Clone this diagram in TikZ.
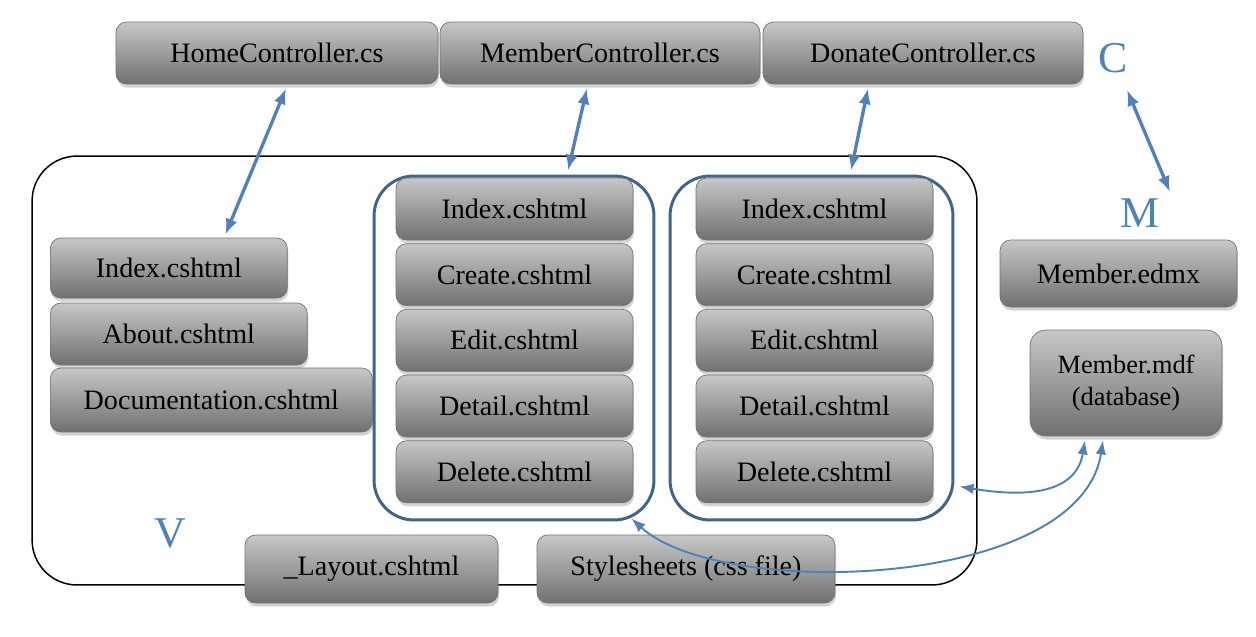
\documentclass[tikz,border=0pt]{standalone}
\usepackage{fontspec}
\setmainfont{Liberation Serif}
\usepackage{tikz}
\usetikzlibrary{positioning}
\usetikzlibrary{shadows}
\usetikzlibrary{arrows.meta}
\definecolor{linkblue}{HTML}{4F81BD}
\definecolor{grpblue}{HTML}{41648F}
\newcommand{\fsize}{\fontsize{16}{19}\selectfont}

\begin{document}
\begin{tikzpicture}[x=0.02cm, y=-0.02cm,
    file/.style={rectangle, rounded corners=6pt, draw=black!55, line width=0.4pt, top color=black!22, bottom color=black!56, drop shadow={opacity=0.35, shadow xshift=0.6pt, shadow yshift=-2pt}, inner sep=0pt, minimum height=1.24cm, font=\fsize, text=black, align=center},
    grp/.style={rectangle, rounded corners=0.8cm, draw=grpblue, line width=1.7pt, inner sep=0pt},
    letter/.style={text=linkblue, font=\fontsize{25}{28}\selectfont},
    link/.style={linkblue, line width=1.9pt, {Latex[length=9pt,width=7pt]}-{Latex[length=9pt,width=7pt]}},
    thinlink/.style={linkblue, line width=1.1pt, {Latex[length=8pt,width=6pt]}-{Latex[length=8pt,width=6pt]}}]
    \useasboundingbox (0,0) rectangle (1256,636);

    \node[draw, line width=0.85pt, rounded corners=0.9cm, minimum width=18.9cm, minimum height=8.58cm, inner sep=0pt] (vbox) at (504.5,370.5) {};
    \node[letter] (lv) at (170,533) {V};

    \node[file, minimum width=6.44cm] (home) at (277,53) {HomeController.cs};
    \node[file, minimum width=6.4cm] (mctrl) at (600,53) {MemberController.cs};
    \node[file, minimum width=6.4cm] (dctrl) at (923,53) {DonateController.cs};
    \node[letter] (lc) at (1113,58) {C};
    \node[letter] (lm) at (1140,213) {M};

    \node[file, minimum width=4.74cm, minimum height=1.2cm, anchor=west] (hidx) at (50,268) {Index.cshtml};
    \node[file, minimum width=5.14cm, anchor=west] (habout) at (50,334) {About.cshtml};
    \node[file, minimum width=6.44cm, minimum height=1.28cm, anchor=west] (hdoc) at (50,400) {Documentation.cshtml};

    \node[grp, minimum width=5.6cm, minimum height=6.88cm] (mgrp) at (514,348) {};
    \node[file, minimum width=4.74cm] (midx) at (514.5,209) {Index.cshtml};
    \node[file, minimum width=4.74cm, below=0.06cm of midx] (mcre) {Create.cshtml};
    \node[file, minimum width=4.74cm, below=0.06cm of mcre] (medit) {Edit.cshtml};
    \node[file, minimum width=4.74cm, below=0.06cm of medit] (mdet) {Detail.cshtml};
    \node[file, minimum width=4.74cm, below=0.06cm of mdet] (mdel) {Delete.cshtml};

    \node[grp, minimum width=5.66cm, minimum height=6.88cm] (dgrp) at (811.5,348) {};
    \node[file, minimum width=4.74cm] (didx) at (814.5,209) {Index.cshtml};
    \node[file, minimum width=4.74cm, below=0.06cm of didx] (dcre) {Create.cshtml};
    \node[file, minimum width=4.74cm, below=0.06cm of dcre] (dedit) {Edit.cshtml};
    \node[file, minimum width=4.74cm, below=0.06cm of dedit] (ddet) {Detail.cshtml};
    \node[file, minimum width=4.74cm, below=0.06cm of ddet] (ddel) {Delete.cshtml};

    \node[file, minimum width=5.06cm, minimum height=1.36cm] (layout) at (371.5,569) {\_Layout.cshtml};
    \node[file, minimum width=5.96cm, minimum height=1.36cm] (css) at (686,569) {Stylesheets (css file)};

    \node[file, minimum width=4.74cm, minimum height=1.34cm] (edmx) at (1118.5,273.5) {Member.edmx};
    \node[file, minimum width=3.84cm, minimum height=2.12cm, rounded corners=9pt, font=\fontsize{15}{18}\selectfont] (mdf) at (1126,383) {Member.mdf\\(database)};

    \draw[link] ([xshift=0.18cm,yshift=-0.08cm]home.south) -- ([xshift=1.13cm,yshift=0.06cm]hidx.north);
    \draw[link] ([xshift=-0.26cm,yshift=-0.08cm]mctrl.south) -- ([xshift=1.08cm,yshift=0.08cm]mgrp.north);
    \draw[link] ([xshift=-1.1cm,yshift=-0.08cm]dctrl.south) -- ([xshift=0.79cm,yshift=0.08cm]dgrp.north);
    \draw[link] ([xshift=0.28cm,yshift=-0.64cm]lc.center) -- ([xshift=0.6cm,yshift=0.42cm]lm.center);

    \draw[thinlink] ([xshift=-0.82cm,yshift=-0.08cm]mdf.south) .. controls (1075,500) and (1010,495) .. ([xshift=0.1cm,yshift=0.7cm]dgrp.south east);
    \draw[thinlink] ([xshift=-0.46cm,yshift=-0.08cm]mdf.south) .. controls (1080,590) and (720,600) .. ([xshift=-0.48cm,yshift=0.06cm]mgrp.south east);
\end{tikzpicture}
\end{document}
